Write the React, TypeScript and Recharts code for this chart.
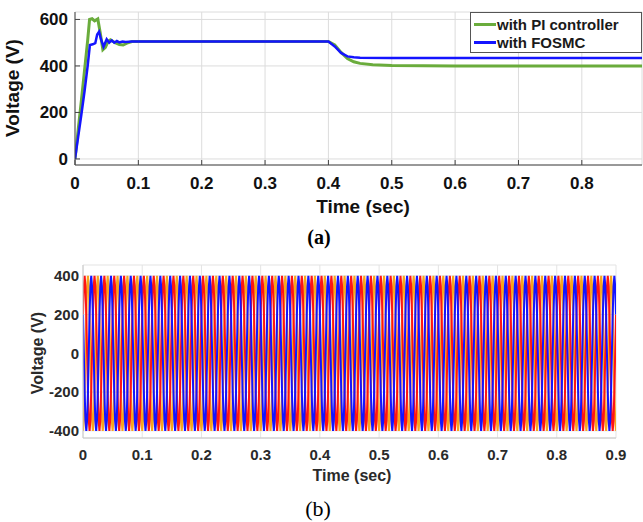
import React from 'react';
import { LineChart, Line, XAxis, YAxis, CartesianGrid, Legend } from 'recharts';

// (a) DC-link voltage
const piTime = [0, 0.005, 0.01, 0.015, 0.02, 0.023, 0.027, 0.031, 0.036, 0.04, 0.044, 0.048, 0.052, 0.056, 0.06, 0.065, 0.07, 0.076, 0.082, 0.09, 0.1, 0.4, 0.41, 0.42, 0.43, 0.44, 0.45, 0.47, 0.5, 0.55, 0.6, 0.9];
const piVoltage = [0, 125, 250, 380, 510, 600, 603, 594, 602, 540, 470, 480, 505, 512, 505, 498, 492, 490, 498, 505, 505, 505, 490, 458, 432, 418, 411, 405, 402, 401, 400, 400];
const fosmcTime = [0, 0.005, 0.01, 0.015, 0.02, 0.0235, 0.028, 0.032, 0.035, 0.038, 0.041, 0.045, 0.05, 0.054, 0.058, 0.062, 0.066, 0.07, 0.075, 0.08, 0.09, 0.1, 0.4, 0.41, 0.42, 0.43, 0.44, 0.45, 0.5, 0.9];
const fosmcVoltage = [0, 95, 190, 290, 400, 490, 493, 498, 535, 547, 515, 483, 515, 500, 510, 500, 507, 501, 505, 503, 505, 505, 505, 484, 456, 441, 437, 435, 434, 434];
const seriesNamesA = ['with PI controller', 'with FOSMC'];
const seriesColorsA = ['#6aac3c', '#1414ff'];
const xTicksA = [0, 0.1, 0.2, 0.3, 0.4, 0.5, 0.6, 0.7, 0.8];
const yTicksA = [0, 200, 400, 600];

// (b) three-phase output voltage, one 60 Hz period sampled 12 times, repeated
const cyclesB = 54;
const samplesPerCycle = 12;
const phaseRedCycle = [200, 346, 400, 346, 200, 0, -200, -346, -400, -346, -200, 0];
const phaseOrangeCycle = [-400, -346, -200, 0, 200, 346, 400, 346, 200, 0, -200, -346];
const phaseBlueCycle = [200, 0, -200, -346, -400, -346, -200, 0, 200, 346, 400, 346];
const xTicksB = [0, 0.1, 0.2, 0.3, 0.4, 0.5, 0.6, 0.7, 0.8, 0.9];
const yTicksB = [-400, -200, 0, 200, 400];

const dataPI = piTime.map((t, i) => ({ t, v: piVoltage[i] }));
const dataFOSMC = fosmcTime.map((t, i) => ({ t, v: fosmcVoltage[i] }));

const dataB: { t: number; a: number; b: number; c: number }[] = [];
for (let i = 0; i <= cyclesB * samplesPerCycle; i++) {
  const k = i % samplesPerCycle;
  dataB.push({
    t: i / (60 * samplesPerCycle),
    a: phaseRedCycle[k],
    b: phaseOrangeCycle[k],
    c: phaseBlueCycle[k],
  });
}

const fontA = { fontFamily: 'Arial, "Liberation Sans", sans-serif', fontWeight: 700 };

const LegendA = () => (
  <div
    style={{
      width: 172,
      height: 41,
      border: '1px solid #555',
      background: '#fff',
      boxSizing: 'border-box',
      paddingTop: 2,
      ...fontA,
      fontSize: 15,
      color: '#1a1a1a',
    }}
  >
    {seriesNamesA.map((name, i) => (
      <div key={name} style={{ display: 'flex', alignItems: 'center', height: 18 }}>
        <div style={{ width: 22, height: 3, background: seriesColorsA[i], marginLeft: 3, marginRight: 1 }} />
        <span style={{ whiteSpace: 'nowrap' }}>{name}</span>
      </div>
    ))}
  </div>
);

export default function App() {
  return (
    <div style={{ position: 'absolute', left: 0, top: 0, width: 643, height: 522, background: '#fff', overflow: 'hidden' }}>
      <div style={{ position: 'absolute', left: 0, top: 0 }}>
        <LineChart width={643} height={200} margin={{ top: 12, right: 1, bottom: 0, left: 0 }}>
          <CartesianGrid stroke="#dcdcdc" strokeWidth={1} />
          <XAxis
            dataKey="t"
            type="number"
            domain={[0, 0.895]}
            ticks={xTicksA}
            allowDataOverflow
            height={35}
            tickSize={-5}
            tickMargin={17}
            tickFormatter={(v: number) => `${v}`}
            stroke="#444"
            tick={{ fill: '#111', fontSize: 17, ...fontA }}
          />
          <XAxis xAxisId="top" orientation="top" type="number" domain={[0, 0.895]} ticks={xTicksA} allowDataOverflow height={0} tickSize={-5} tick={false} stroke="#444" />
          <YAxis
            type="number"
            domain={[-26, 632]}
            ticks={yTicksA}
            allowDataOverflow
            width={75}
            tickSize={-5}
            tickMargin={12}
            stroke="#444"
            tick={{ fill: '#111', fontSize: 17, ...fontA }}
          />
          <YAxis yAxisId="right" orientation="right" type="number" domain={[-26, 632]} ticks={yTicksA} width={0} tickSize={-5} tick={false} stroke="#444" />
          <Legend
            verticalAlign="middle"
            align="center"
            wrapperStyle={{ top: 12, left: 470, width: 172 }}
            content={() => <LegendA />}
          />
          <Line data={dataPI} dataKey="v" name={seriesNamesA[0]} stroke={seriesColorsA[0]} strokeWidth={3} dot={false} activeDot={false} isAnimationActive={false} />
          <Line data={dataFOSMC} dataKey="v" name={seriesNamesA[1]} stroke={seriesColorsA[1]} strokeWidth={2.5} dot={false} activeDot={false} isAnimationActive={false} />
        </LineChart>
      </div>
      <div style={{ position: 'absolute', left: 13, top: 88, transform: 'translate(-50%, -50%) rotate(-90deg)', ...fontA, fontSize: 19, color: '#111', whiteSpace: 'nowrap' }}>
        Voltage (V)
      </div>
      <div style={{ position: 'absolute', left: 363, top: 207, transform: 'translate(-50%, -50%)', ...fontA, fontSize: 19, color: '#111', whiteSpace: 'nowrap' }}>
        Time (sec)
      </div>
      <div style={{ position: 'absolute', left: 319, top: 237, transform: 'translate(-50%, -50%)', fontFamily: '"Liberation Serif", "Times New Roman", serif', fontWeight: 700, fontSize: 20, color: '#000' }}>
        (a)
      </div>

      <div style={{ position: 'absolute', left: 0, top: 250 }}>
        <LineChart width={643} height={215} data={dataB} margin={{ top: 15, right: 27, bottom: 2, left: 0 }}>
          <CartesianGrid stroke="#e3e3e3" strokeWidth={1} />
          <XAxis
            dataKey="t"
            type="number"
            domain={[0, 0.9]}
            ticks={xTicksB}
            allowDataOverflow
            height={25}
            tickSize={0}
            tickMargin={11}
            stroke="#c8c8c8"
            tick={{ fill: '#2a2a2a', fontSize: 15, ...fontA }}
          />
          <XAxis xAxisId="top" orientation="top" type="number" domain={[0, 0.9]} ticks={xTicksB} height={0} tickSize={0} tick={false} stroke="#c8c8c8" />
          <YAxis
            type="number"
            domain={[-437, 456]}
            ticks={yTicksB}
            allowDataOverflow
            width={83}
            tickSize={0}
            tickMargin={4}
            stroke="#c8c8c8"
            tick={{ fill: '#2a2a2a', fontSize: 15, ...fontA }}
          />
          <YAxis yAxisId="right" orientation="right" type="number" domain={[-437, 456]} ticks={yTicksB} width={0} tickSize={0} tick={false} stroke="#c8c8c8" />
          <Line dataKey="b" stroke="#f7a51e" strokeWidth={2} dot={false} activeDot={false} isAnimationActive={false} />
          <Line dataKey="a" stroke="#ff1414" strokeWidth={2} dot={false} activeDot={false} isAnimationActive={false} />
          <Line dataKey="c" stroke="#1414ff" strokeWidth={2} dot={false} activeDot={false} isAnimationActive={false} />
        </LineChart>
      </div>
      <div style={{ position: 'absolute', left: 38, top: 353, transform: 'translate(-50%, -50%) rotate(-90deg)', ...fontA, fontSize: 16, color: '#2a2a2a', whiteSpace: 'nowrap' }}>
        Voltage (V)
      </div>
      <div style={{ position: 'absolute', left: 352, top: 476, transform: 'translate(-50%, -50%)', ...fontA, fontSize: 16, color: '#2a2a2a', whiteSpace: 'nowrap' }}>
        Time (sec)
      </div>
      <div style={{ position: 'absolute', left: 318, top: 509, transform: 'translate(-50%, -50%)', fontFamily: '"Liberation Serif", "Times New Roman", serif', fontSize: 22, color: '#000' }}>
        (b)
      </div>
    </div>
  );
}
